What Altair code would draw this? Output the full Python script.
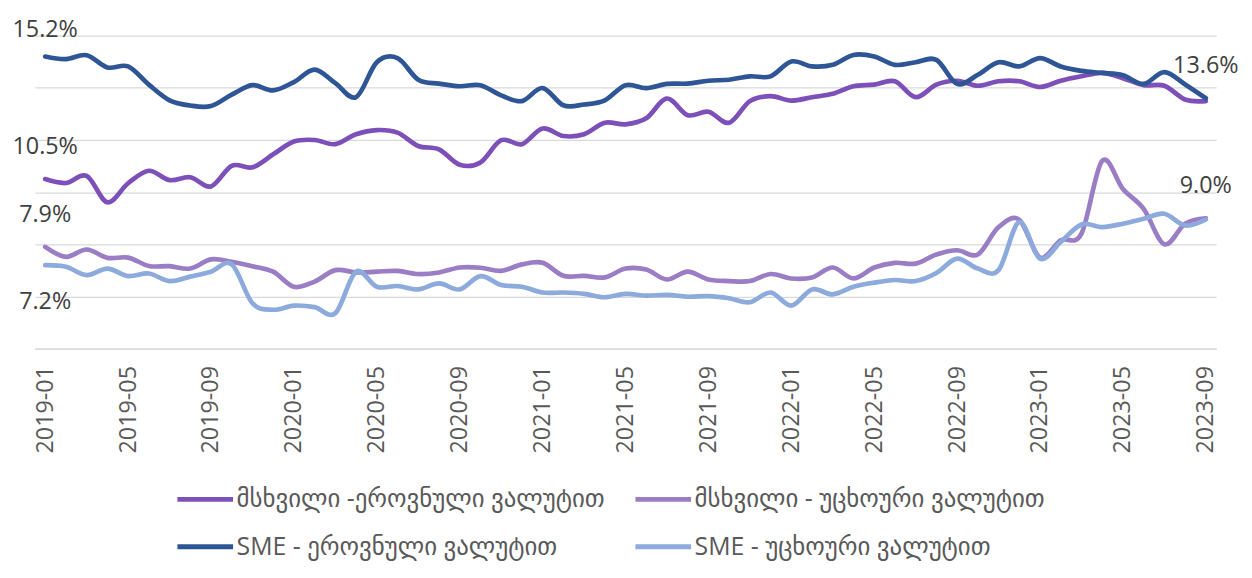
import altair as alt
import pandas as pd

# ---- data -----------------------------------------------------------------
months = [f"{y}-{m:02d}" for y in range(2019, 2024) for m in range(1, 13)][:57]
tick_months = months[::4]

S1 = "მსხვილი -ეროვნული ვალუტით"
S2 = "მსხვილი - უცხოური ვალუტით"
S3 = "SME - ეროვნული ვალუტით"
S4 = "SME - უცხოური ვალუტით"
series_names = [S1, S2, S3, S4]
series_colors = ["#7D4FB9", "#9A7DC4", "#2E5596", "#8DAADC"]

large_gel = [10.50, 10.35, 10.62, 9.61, 10.34, 10.82, 10.46, 10.57, 10.22, 11.01,
             10.95, 11.45, 11.94, 12.00, 11.84, 12.22, 12.38, 12.28, 11.77, 11.64,
             11.05, 11.14, 11.99, 11.84, 12.44, 12.15, 12.22, 12.66, 12.60, 12.83,
             13.59, 12.95, 13.08, 12.66, 13.49, 13.68, 13.51, 13.64, 13.77, 14.06,
             14.12, 14.25, 13.64, 14.12, 14.27, 14.08, 14.25, 14.25, 14.03, 14.27,
             14.44, 14.57, 14.37, 14.10, 14.08, 13.55, 13.49]

large_fx = [7.90, 7.52, 7.80, 7.48, 7.49, 7.17, 7.16, 7.07, 7.42, 7.33,
            7.16, 6.95, 6.37, 6.57, 7.01, 6.92, 6.95, 6.98, 6.86, 6.92,
            7.11, 7.10, 6.98, 7.23, 7.29, 6.79, 6.79, 6.73, 7.07, 7.03,
            6.65, 6.95, 6.65, 6.59, 6.59, 6.86, 6.69, 6.73, 7.11, 6.69,
            7.11, 7.29, 7.26, 7.61, 7.77, 7.61, 8.66, 8.94, 7.49, 8.15,
            8.41, 11.20, 10.12, 9.36, 8.00, 8.79, 9.00]

sme_gel = [15.20, 15.10, 15.25, 14.78, 14.82, 14.12, 13.52, 13.32, 13.30, 13.74,
           14.10, 13.90, 14.22, 14.70, 14.18, 13.64, 14.98, 15.14, 14.31, 14.16,
           14.06, 14.10, 13.71, 13.49, 13.99, 13.33, 13.36, 13.52, 14.10, 13.99,
           14.15, 14.16, 14.27, 14.31, 14.44, 14.44, 15.01, 14.82, 14.88, 15.26,
           15.20, 14.88, 14.98, 15.07, 14.15, 14.50, 14.98, 14.82, 15.14, 14.82,
           14.65, 14.57, 14.48, 14.15, 14.60, 14.13, 13.60]

sme_fx = [7.20, 7.14, 6.82, 7.07, 6.78, 6.88, 6.59, 6.76, 6.95, 7.23,
          5.74, 5.49, 5.65, 5.59, 5.36, 6.95, 6.37, 6.40, 6.27, 6.50,
          6.27, 6.78, 6.44, 6.37, 6.15, 6.15, 6.10, 5.97, 6.10, 6.03,
          6.06, 5.99, 6.01, 5.93, 5.78, 6.15, 5.65, 6.27, 6.08, 6.37,
          6.53, 6.63, 6.59, 6.90, 7.45, 7.07, 7.01, 8.85, 7.45, 8.09,
          8.76, 8.66, 8.79, 8.98, 9.17, 8.72, 8.95]

# data labels: (series, month, value, placement)
label_series = [S3, S1, S2, S4, S3, S2]
label_months = ["2019-01", "2019-01", "2019-01", "2019-01", "2023-09", "2023-09"]
label_values = [15.2, 10.5, 7.9, 7.2, 13.6, 9.0]
label_place = ["top", "above", "above", "below", "above", "above"]

# ---- frames ---------------------------------------------------------------
rows = []
for name, vals in zip(series_names, [large_gel, large_fx, sme_gel, sme_fx]):
    for m, v in zip(months, vals):
        rows.append({"month": m, "value": v, "series": name})
df = pd.DataFrame(rows)

lab = pd.DataFrame({
    "series": label_series,
    "month": label_months,
    "value": label_values,
    "place": label_place,
})
lab["text"] = lab["value"].map(lambda v: f"{v:.1f}%")

# legend is filled column by column, so order entries to read row-wise
legend_order = [S1, S3, S2, S4]
legend_colors = [series_colors[series_names.index(s)] for s in legend_order]

FONT = "Open Sans, DejaVu Sans, sans-serif"
GRID = "#D9D9D9"

x_enc = alt.X("month:O", scale=alt.Scale(type="point", padding=0.5, domain=months),
              axis=alt.Axis(values=tick_months, labelAngle=270, labelPadding=17,
                            ticks=False, domain=True, domainColor=GRID, domainWidth=1.3,
                            labelFontSize=23.5, labelColor="#595959", labelFont=FONT,
                            grid=False, title=None))
y_enc = alt.Y("value:Q", scale=alt.Scale(domain=[4, 16], nice=False, zero=False),
              axis=alt.Axis(values=[4, 6, 8, 10, 12, 14, 16], labels=False, ticks=False,
                            domain=False, grid=True, gridColor=GRID, gridWidth=1.3,
                            title=None))

lines = alt.Chart(df).mark_line(strokeWidth=4.7, interpolate="cardinal", strokeCap="round").encode(
    x=x_enc,
    y=y_enc,
    color=alt.Color("series:N",
                    scale=alt.Scale(domain=legend_order, range=legend_colors),
                    sort=legend_order,
                    legend=alt.Legend(orient="none", legendX=141, legendY=436, columns=2,
                                      symbolType="stroke", symbolSize=3136, symbolStrokeWidth=5,
                                      labelFontSize=25, labelFont=FONT, labelColor="#595959",
                                      labelLimit=0, columnPadding=20, rowPadding=4,
                                      labelOffset=1, title=None)),
    detail="series:N",
)


def label_layer(place, dy):
    return alt.Chart(lab).transform_filter(alt.datum.place == place).mark_text(
        dy=dy, fontSize=23.5, font=FONT, color="#404040").encode(
        x=alt.X("month:O"), y=alt.Y("value:Q"), text="text:N")


txt_top = label_layer("top", -27)
txt_above = label_layer("above", -32)
txt_below = label_layer("below", 37)

frame = alt.Chart(df).mark_rule(color=GRID, strokeWidth=1.5).encode(
    x=alt.value(-29), y=alt.value(-26), y2=alt.value(544))

chart = alt.layer(lines, txt_top, txt_above, txt_below, frame).properties(
    width=1189, height=315,
    autosize=alt.AutoSizeParams(type="none"),
    padding={"left": 27, "top": 26, "right": 28, "bottom": 221},
    background="white",
).configure_view(stroke=None)

chart.save("out.html", embed_options={"renderer": "svg", "actions": False})
